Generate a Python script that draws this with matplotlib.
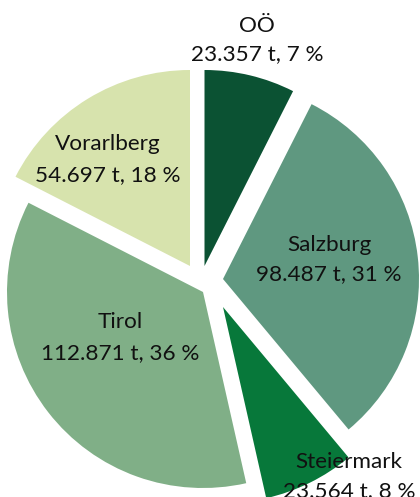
import matplotlib
matplotlib.use("Agg")
import matplotlib.pyplot as plt

# Data
regions = ["OÖ", "Salzburg", "Steiermark", "Tirol", "Vorarlberg"]
tonnes = [23357, 98487, 23564, 112871, 54697]
tonnes_labels = ["23.357", "98.487", "23.564", "112.871", "54.697"]
percent_labels = ["7", "31", "8", "36", "18"]

colors = ["#0b5233", "#5f9880", "#07783a", "#80af87", "#d7e3ad"]

W, H = 420, 497
fig = plt.figure(figsize=(W / 100, H / 100), dpi=100)
ax = fig.add_axes([0, 0, 1, 1])

R = 196
wedges, _ = ax.pie(tonnes, startangle=90, counterclock=False, colors=colors,
                   radius=R, center=(207, H - 283),
                   wedgeprops=dict(linewidth=0))

# apex (tip) position of each exploded slice, in pixel coords (x, y from top)
apex = [(204.5, 266), (223, 279), (223, 307), (203, 292), (190, 266)]
for w, (px, py) in zip(wedges, apex):
    w.set_center((px, H - py))

# label placement: (x center, baseline y of line1, baseline y of line2) from top
label_pos = [(257, 32, 60), (329, 251, 280), (349, 468, 497),
             (120, 328, 359), (108, 150, 181)]
font = dict(family=["Lato", "DejaVu Sans"], fontsize=16.2, color="#111111")
for name, t, p, (lx, y1, y2) in zip(regions, tonnes_labels, percent_labels, label_pos):
    ax.text(lx, H - y1, name, ha="center", va="baseline", **font)
    ax.text(lx, H - y2, f"{t} t, {p} %", ha="center", va="baseline", **font)

ax.set_xlim(0, W)
ax.set_ylim(0, H)
ax.set_aspect("equal")
ax.axis("off")
fig.savefig("out.png", dpi=100)
